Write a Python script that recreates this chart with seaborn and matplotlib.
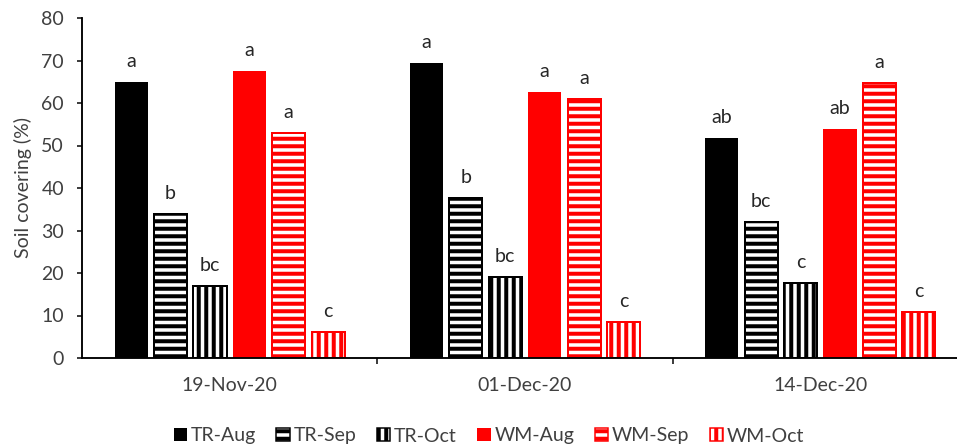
import numpy as np
import pandas as pd
import matplotlib
matplotlib.use("Agg")
import matplotlib.pyplot as plt
from matplotlib.patches import Patch
import seaborn as sns

# Sampling dates and treatments
dates = ["19-Nov-20", "01-Dec-20", "14-Dec-20"]
treatments = ["TR-Aug", "TR-Sep", "TR-Oct", "WM-Aug", "WM-Sep", "WM-Oct"]

# Soil covering (%) per treatment, one value per date
tr_aug = [64.9, 69.5, 51.8]
tr_sep = [33.9, 37.7, 31.9]
tr_oct = [17.0, 19.1, 17.6]
wm_aug = [67.6, 62.7, 53.8]
wm_sep = [52.9, 61.0, 64.8]
wm_oct = [6.1, 8.5, 10.8]

# Significance letters, one per bar
letters_tr_aug = ["a", "a", "ab"]
letters_tr_sep = ["b", "b", "bc"]
letters_tr_oct = ["bc", "bc", "c"]
letters_wm_aug = ["a", "a", "ab"]
letters_wm_sep = ["a", "a", "a"]
letters_wm_oct = ["c", "c", "c"]

values = [tr_aug, tr_sep, tr_oct, wm_aug, wm_sep, wm_oct]
letters = [letters_tr_aug, letters_tr_sep, letters_tr_oct,
           letters_wm_aug, letters_wm_sep, letters_wm_oct]

df = pd.DataFrame({
    "date": np.tile(dates, len(treatments)),
    "treatment": np.repeat(treatments, len(dates)),
    "cover": np.concatenate(values),
})

sns.set_style("ticks")
DPI = 90
PT = 72.0 / DPI  # points per pixel
plt.rcParams["font.family"] = ["Lato", "DejaVu Sans"]
plt.rcParams["hatch.linewidth"] = 3.2

text_col = "#404040"
fs = 19.5 * PT

# styling per treatment: face, edge, hatch
styles = {
    "TR-Aug": ("black", "black", ""),
    "TR-Sep": ("white", "black", "--"),
    "TR-Oct": ("white", "black", "||"),
    "WM-Aug": ("#FF0000", "#FF0000", ""),
    "WM-Sep": ("white", "#FF0000", "--"),
    "WM-Oct": ("white", "#FF0000", "||"),
}

fig = plt.figure(figsize=(957 / DPI, 445 / DPI), dpi=DPI)
ax = fig.add_axes([82 / 957, 87 / 445, 886 / 957, 340 / 445])

sns.barplot(data=df, x="date", y="cover", hue="treatment",
            order=dates, hue_order=treatments,
            palette={t: styles[t][0] for t in treatments},
            width=0.8, gap=0.16, legend=False, ax=ax, errorbar=None)

for cont, t, labs in zip(ax.containers, treatments, letters):
    face, edge, hatch = styles[t]
    for bar, lab in zip(cont, labs):
        bar.set_facecolor(face)
        bar.set_edgecolor(edge)
        bar.set_hatch(hatch)
        bar.set_linewidth(1.6 if hatch else 0)
        ax.annotate(lab, (bar.get_x() + bar.get_width() / 2, bar.get_height()),
                    xytext=(0, 15 * PT), textcoords="offset points",
                    ha="center", va="baseline", fontsize=fs, color="#262626")

ax.set_xlim(-0.5, 2.5)
ax.set_ylim(0, 80)
ax.set_yticks(np.arange(0, 81, 10))
ax.set_xlabel("")
ax.set_ylabel("Soil covering (%)", fontsize=fs, color=text_col, labelpad=9 * PT)

sns.despine(ax=ax)
for sp in ("left", "bottom"):
    ax.spines[sp].set_linewidth(1.5)
    ax.spines[sp].set_color("black")

ax.tick_params(axis="y", length=5 * PT, width=1.2, pad=13 * PT,
               labelsize=fs, labelcolor=text_col, color="black")
ax.tick_params(axis="x", which="major", length=0, pad=19 * PT,
               labelsize=fs, labelcolor=text_col)
ax.set_xticks([0.5, 1.5], minor=True)
ax.tick_params(axis="x", which="minor", length=6 * PT, width=1.2, color="black")

handles = [Patch(facecolor=styles[t][0], edgecolor=styles[t][1],
                 hatch=styles[t][2], linewidth=1.2 if styles[t][2] else 0,
                 label=t) for t in treatments]
fig.legend(handles=handles, loc="center", bbox_to_anchor=(489 / 957, 9 / 445),
           ncol=6, frameon=False, fontsize=fs, labelcolor=text_col,
           handlelength=0.68, handleheight=0.68, handletextpad=0.2,
           columnspacing=1.05, borderpad=0, borderaxespad=0)

fig.savefig("out.png", dpi=DPI)
